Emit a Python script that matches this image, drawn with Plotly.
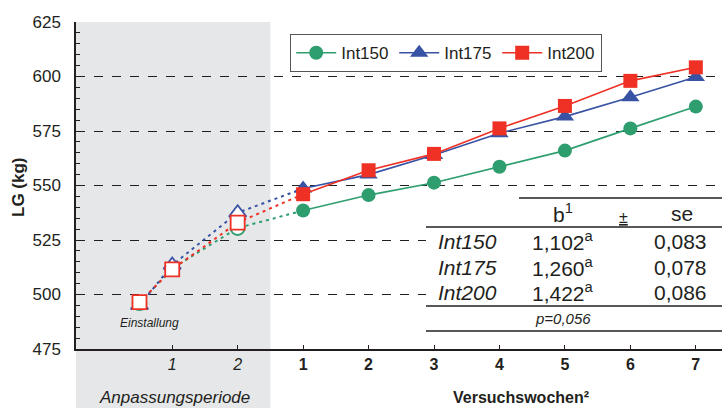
import plotly.graph_objects as go

W, H = 722, 408
ML, MR, MT, MB = 76, 0, 22, 59
PW, PH = W - ML - MR, H - MT - MB

# ---------------- data ----------------
series = ["Int150", "Int175", "Int200"]
colors = ["#2e9e6f", "#3852a4", "#ee3124"]
symbols = ["circle", "triangle-up", "square"]

pre_x = [-0.5, 0, 1]            # Einstallung, Anpassung 1, Anpassung 2
week_x = [2, 3, 4, 5, 6, 7, 8]  # Versuchswochen 1..7

pre_int150 = [496, 512, 530.5]
pre_int175 = [495, 513.5, 537.5]
pre_int200 = [496.5, 511.5, 533]

wk_int150 = [538.5, 545.6, 551.3, 558.6, 566, 576.2, 586.2]
wk_int175 = [548.6, 555, 564, 574, 581.6, 590.5, 599.8]
wk_int200 = [546, 557, 564.5, 576.2, 586.5, 598, 604.2]

tick_vals = [0, 1, 2, 3, 4, 5, 6, 7, 8]
tick_text = ["<i>1</i>", "<i>2</i>", "<b>1</b>", "<b>2</b>", "<b>3</b>",
             "<b>4</b>", "<b>5</b>", "<b>6</b>", "<b>7</b>"]

table_rows = ["Int150", "Int175", "Int200"]
table_b = ["1,102", "1,260", "1,422"]
table_sup = ["a", "a", "a"]
table_se = ["0,083", "0,078", "0,086"]
p_text = "p=0,056"

pre_vals = [pre_int150, pre_int175, pre_int200]
wk_vals = [wk_int150, wk_int175, wk_int200]

XMIN, XMAX = -1.47, 8.4
YMIN, YMAX = 475, 625
TXT = "#231f20"
FONT = "Liberation Sans, Arial, sans-serif"


def px_x(px):
    return (px - ML) / PW


def px_y(py):
    return (H - MB - py) / PH


fig = go.Figure()

# dotted connection lines (pre-period -> week 1)
for i in range(3):
    fig.add_trace(go.Scatter(
        x=pre_x + [week_x[0]], y=pre_vals[i] + [wk_vals[i][0]],
        mode="lines", line=dict(color=colors[i], width=2, dash="3px,4px"),
        showlegend=False, hoverinfo="skip"))

# open markers pre-period
for i in range(3):
    fig.add_trace(go.Scatter(
        x=pre_x, y=pre_vals[i], mode="markers",
        marker=dict(symbol=symbols[i], size=15 if i == 1 else 14, color="white",
                    line=dict(color=colors[i], width=1.8)),
        showlegend=False, hoverinfo="skip"))

# main series
for i in range(3):
    fig.add_trace(go.Scatter(
        x=week_x, y=wk_vals[i], mode="lines+markers", name=series[i],
        line=dict(color=colors[i], width=1.6),
        marker=dict(symbol=symbols[i], size=16 if i == 1 else 14, color=colors[i])))

# gray adaptation-period shading (extends below axis)
gray_right = (1.5 - XMIN) / (XMAX - XMIN)
fig.add_shape(type="rect", xref="paper", yref="paper", x0=0, x1=gray_right,
              y0=-MB / PH, y1=1, fillcolor="#e6e7e9", line_width=0, layer="below")

# table background
fig.add_shape(type="rect", xref="paper", yref="paper", x0=px_x(426), x1=1,
              y0=px_y(331), y1=px_y(198), fillcolor="white", line_width=0, layer="above")
# table rules
for (x0, py) in [(519, 198), (426, 227), (426, 306), (426, 331)]:
    fig.add_shape(type="line", xref="paper", yref="paper", x0=px_x(x0), x1=1,
                  y0=px_y(py), y1=px_y(py), line=dict(color="#231f20", width=1.3),
                  layer="above")

ann = []


def A(text, px, py, size, xanchor="center", **kw):
    ann.append(dict(text=text, x=px_x(px), y=px_y(py), xref="paper", yref="paper",
                    showarrow=False, xanchor=xanchor, yanchor="middle",
                    font=dict(size=size, color=TXT, family=FONT), **kw))


A("b<sup>1</sup>", 563, 213, 21)
A("<u>±</u>", 623, 217, 16)
A("se", 682, 213, 21)
row_y = [241, 267, 292]
for k in range(3):
    A("<i>" + table_rows[k] + "</i>", 467, row_y[k], 21)
    A(table_b[k] + "<sup>" + table_sup[k] + "</sup>", 563, row_y[k], 21)
    A(table_se[k], 709, row_y[k], 21, xanchor="right")
A("<i>" + p_text + "</i>", 563, 318, 15)

A("<i>Einstallung</i>", 149, 323, 12)
A("<i>Anpassungsperiode</i>", 174, 397, 17)
A("<b>Versuchswochen²</b>", 521, 397, 16)
A("<b>LG (kg)</b>", 18, 187, 17, textangle=-90)

fig.update_layout(
    width=W, height=H, margin=dict(l=ML, r=MR, t=MT, b=MB, pad=0),
    paper_bgcolor="white", plot_bgcolor="rgba(0,0,0,0)",
    font=dict(family=FONT, color=TXT),
    annotations=ann,
    showlegend=True,
    legend=dict(orientation="h", x=px_x(290), y=px_y(34), xanchor="left", yanchor="top",
                bgcolor="white", bordercolor="#555555", borderwidth=1.2,
                font=dict(size=17, color=TXT, family=FONT), itemwidth=40,
                entrywidth=48, tracegroupgap=0),
    xaxis=dict(range=[XMIN, XMAX], tickvals=tick_vals, ticktext=tick_text,
               ticks="inside", ticklen=4, tickcolor="#231f20", tickwidth=1,
               showline=True, linecolor="#231f20", linewidth=1.5,
               showgrid=False, zeroline=False,
               tickfont=dict(size=16, color=TXT, family=FONT)),
    yaxis=dict(range=[YMIN, YMAX], tickvals=list(range(475, 626, 25)),
               ticks="inside", ticklen=5, tickcolor="#231f20", tickwidth=1,
               minor=dict(dtick=5, ticks="inside", ticklen=4, tickcolor="#231f20",
                          showgrid=False),
               showline=True, linecolor="#231f20", linewidth=1.5,
               showgrid=True, gridcolor="#231f20", gridwidth=1, griddash="dash",
               zeroline=False, ticklabelstandoff=10,
               tickfont=dict(size=17, color=TXT, family=FONT)),
)

fig.write_html("out.html")
